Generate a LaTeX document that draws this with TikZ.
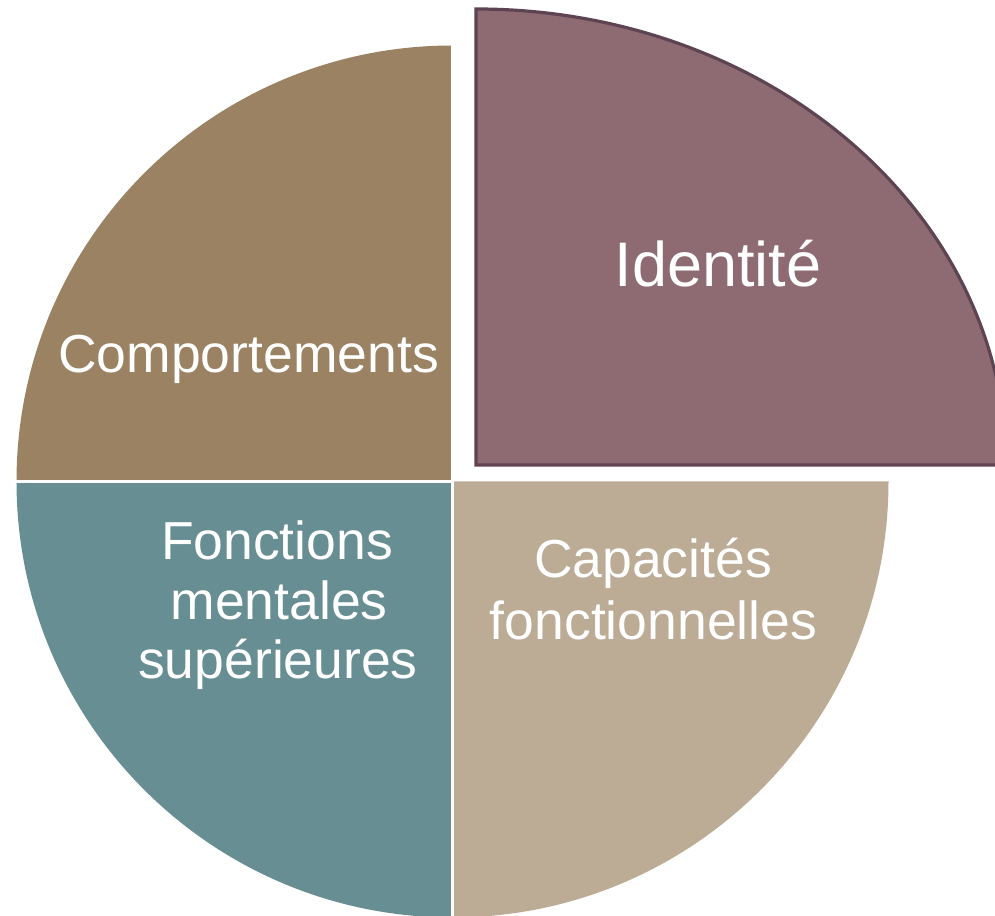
\documentclass[tikz,border=0pt]{standalone}
\usepackage{fontspec}
\setmainfont{Liberation Sans}
\definecolor{cbrown}{HTML}{9A8263}
\definecolor{cmauve}{HTML}{8E6A72}
\definecolor{cmauveline}{HTML}{5E4452}
\definecolor{cteal}{HTML}{678E93}
\definecolor{ctan}{HTML}{BCAB95}
\begin{document}
\begin{tikzpicture}[x=1pt,y=1pt,
  lbl/.style={text=white, inner sep=0pt, anchor=base, font=\fontsize{53.5}{60}\selectfont},
  biglbl/.style={lbl, font=\fontsize{63}{70}\selectfont},
  sep/.style={draw=white, line width=3pt}]
\clip (0,0) rectangle (995,915);
\coordinate (c) at (452.5,433.5);
\coordinate (cl) at (14,433.5);
\coordinate (cb) at (452.5,-5);
\coordinate (ct) at (452.5,872);
% main quadrants
\fill[cbrown] (c) -- ++(-436,0) arc[start angle=180,end angle=90,radius=436] -- cycle;
\fill[cteal] (c) -- ++(-436,0) arc[start angle=180,end angle=270,radius=436] -- cycle;
\fill[ctan] (c) -- ++(0,-436) arc[start angle=270,end angle=360,radius=436] -- cycle;
\draw[sep] (cl) -- (c);
\draw[sep] (cb) -- (ct);
% exploded quadrant
\coordinate (e) at (476,450);
\filldraw[fill=cmauve, draw=cmauveline, line width=3.2pt, line join=miter]
  (e) -- ++(0,456) arc[start angle=90,end angle=0,x radius=530,y radius=456] -- cycle;
% labels
\node[biglbl] (id) at (718,628) {Identité};
\node[lbl] (comp) at (248.5,542) {Comportements};
\node[lbl] (fm1) at (277,355) {Fonctions};
\node[lbl] (fm2) at (279,295) {mentales};
\node[lbl] (fm3) at (278,236) {supérieures};
\node[lbl] (cf1) at (653,337) {Capacités};
\node[lbl] (cf2) at (653.5,275) {fonctionnelles};
\end{tikzpicture}
\end{document}
